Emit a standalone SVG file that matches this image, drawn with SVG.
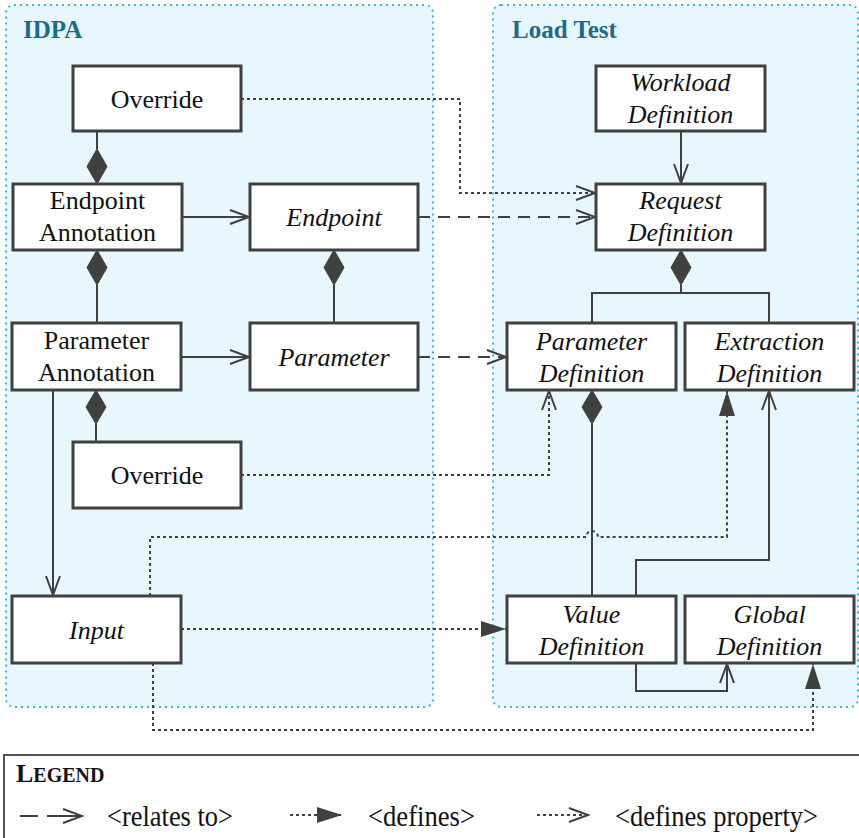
<svg xmlns="http://www.w3.org/2000/svg" width="859" height="838" viewBox="0 0 859 838">
  <defs>
    <style>
      .area { fill: #e8f7fd; stroke: #3bb7e6; stroke-width: 2; stroke-dasharray: 2 4; }
      .area-title { font-family: "Liberation Serif", "Times New Roman", serif; font-weight: bold; font-size: 25px; fill: #186d8e; }
      .box { fill: #ffffff; stroke: #404040; stroke-width: 3; }
      .lbl { font-family: "Liberation Serif", "Times New Roman", serif; font-size: 26px; fill: #111111; text-anchor: middle; }
      .it { font-style: italic; }
      .solid { fill: none; stroke: #404040; stroke-width: 2; }
      .dashed { fill: none; stroke: #404040; stroke-width: 2; stroke-dasharray: 12 8; }
      .dotted { fill: none; stroke: #404040; stroke-width: 2; stroke-dasharray: 3 3; }
      .diamond { fill: #404040; stroke: #404040; stroke-width: 1; }
      .legend-box { fill: #ffffff; stroke: #555555; stroke-width: 2; }
      .legend-text { font-family: "Liberation Serif", "Times New Roman", serif; font-size: 30px; fill: #111111; }
      .legend-title { font-family: "Liberation Serif", "Times New Roman", serif; font-weight: bold; fill: #111111; }
    </style>
    <marker id="open" markerUnits="userSpaceOnUse" markerWidth="24" markerHeight="18" refX="21" refY="9" orient="auto" overflow="visible">
      <path d="M2,2 L21,9 L2,16" fill="none" stroke="#404040" stroke-width="2"/>
    </marker>
    <marker id="filled" markerUnits="userSpaceOnUse" markerWidth="26" markerHeight="18" refX="25" refY="8" orient="auto" overflow="visible">
      <path d="M0,0 L25,8 L0,16 Z" fill="#404040"/>
    </marker>
  </defs>

  <!-- package areas -->
  <g id="area-idpa">
    <rect class="area" x="6" y="5" width="427" height="702" rx="8"/>
    <text class="area-title" x="23" y="38">IDPA</text>
  </g>
  <g id="area-loadtest">
    <rect class="area" x="493" y="5" width="365" height="702" rx="8"/>
    <text class="area-title" x="512" y="38">Load Test</text>
  </g>

  <!-- connectors -->
  <g id="connectors">
    <!-- compositions -->
    <path class="solid" d="M97,131 V149"/>
    <polygon class="diamond" points="97,149 107,166.5 97,184 87,166.5"/>
    <polygon class="diamond" points="97,250 107,267.5 97,285 87,267.5"/>
    <path class="solid" d="M97,285 V323"/>
    <polygon class="diamond" points="334,250 344,267.5 334,285 324,267.5"/>
    <path class="solid" d="M334,285 V323"/>
    <polygon class="diamond" points="96,390 106,407 96,424 86,407"/>
    <path class="solid" d="M96,424 V442"/>
    <polygon class="diamond" points="681,250 691,267.5 681,285 671,267.5"/>
    <path class="solid" d="M681,285 V293 M592,323 V293 H769 V323"/>
    <polygon class="diamond" points="592,390 602,407 592,424 582,407"/>
    <path class="solid" d="M592,424 V596"/>

    <!-- associations -->
    <path class="solid" d="M182,217 H249" marker-end="url(#open)"/>
    <path class="solid" d="M181,357 H249" marker-end="url(#open)"/>
    <path class="solid" d="M53,390 V595" marker-end="url(#open)"/>
    <path class="solid" d="M681,131 V183" marker-end="url(#open)"/>
    <path class="solid" d="M636,596 V560 H769 V391" marker-end="url(#open)"/>
    <path class="solid" d="M636,663 V691 H727 V664" marker-end="url(#open)"/>

    <!-- relates to -->
    <path class="dashed" d="M418,217 H595" marker-end="url(#open)"/>
    <path class="dashed" d="M418,357 H506" marker-end="url(#open)"/>

    <!-- defines property -->
    <path class="dotted" d="M241,99 H460 V193 H595" marker-end="url(#open)"/>
    <path class="dotted" d="M241,475 H549 V391" marker-end="url(#open)"/>

    <!-- defines -->
    <path class="dotted" d="M150,596 V537 H586 A6,6 0 0 1 598,537 H727 V391" marker-end="url(#filled)"/>
    <path class="dotted" d="M181,629 H506" marker-end="url(#filled)"/>
    <path class="dotted" d="M153,663 V730 H813 V664" marker-end="url(#filled)"/>
  </g>

  <!-- IDPA nodes -->
  <g id="node-override-endpoint">
    <rect class="box" x="73" y="66" width="168" height="65"/>
    <text class="lbl" x="157" y="107.5">Override</text>
  </g>
  <g id="node-endpoint-annotation">
    <rect class="box" x="13" y="184" width="169" height="66"/>
    <text class="lbl" x="97.5" y="209">Endpoint</text>
    <text class="lbl" x="97.5" y="241">Annotation</text>
  </g>
  <g id="node-endpoint">
    <rect class="box" x="250" y="184" width="168" height="66"/>
    <text class="lbl it" x="334" y="226">Endpoint</text>
  </g>
  <g id="node-parameter-annotation">
    <rect class="box" x="12" y="323" width="169" height="67"/>
    <text class="lbl" x="96.5" y="349">Parameter</text>
    <text class="lbl" x="96.5" y="381">Annotation</text>
  </g>
  <g id="node-parameter">
    <rect class="box" x="250" y="323" width="168" height="67"/>
    <text class="lbl it" x="334" y="365.5">Parameter</text>
  </g>
  <g id="node-override-parameter">
    <rect class="box" x="73" y="442" width="168" height="66"/>
    <text class="lbl" x="157" y="484">Override</text>
  </g>
  <g id="node-input">
    <rect class="box" x="12" y="596" width="169" height="67"/>
    <text class="lbl it" x="96.5" y="638.5">Input</text>
  </g>

  <!-- Load Test nodes -->
  <g id="node-workload-definition">
    <rect class="box" x="596" y="66" width="169" height="65"/>
    <text class="lbl it" x="680.5" y="90.5">Workload</text>
    <text class="lbl it" x="680.5" y="122.5">Definition</text>
  </g>
  <g id="node-request-definition">
    <rect class="box" x="596" y="184" width="169" height="66"/>
    <text class="lbl it" x="680.5" y="209">Request</text>
    <text class="lbl it" x="680.5" y="241">Definition</text>
  </g>
  <g id="node-parameter-definition">
    <rect class="box" x="507" y="323" width="169" height="67"/>
    <text class="lbl it" x="591.5" y="349.5">Parameter</text>
    <text class="lbl it" x="591.5" y="381.5">Definition</text>
  </g>
  <g id="node-extraction-definition">
    <rect class="box" x="685" y="323" width="169" height="67"/>
    <text class="lbl it" x="769.5" y="349.5">Extraction</text>
    <text class="lbl it" x="769.5" y="381.5">Definition</text>
  </g>
  <g id="node-value-definition">
    <rect class="box" x="507" y="596" width="169" height="67"/>
    <text class="lbl it" x="591.5" y="622.5">Value</text>
    <text class="lbl it" x="591.5" y="654.5">Definition</text>
  </g>
  <g id="node-global-definition">
    <rect class="box" x="685" y="596" width="169" height="67"/>
    <text class="lbl it" x="769.5" y="622.5">Global</text>
    <text class="lbl it" x="769.5" y="654.5">Definition</text>
  </g>

  <!-- legend -->
  <g id="legend">
    <rect class="legend-box" x="4" y="755" width="870" height="100"/>
    <text class="legend-title" x="16" y="782"><tspan font-size="26px">L</tspan><tspan font-size="20px">EGEND</tspan></text>
    <path class="solid" d="M20,816 H38"/>
    <path class="solid" d="M47,816 H82" marker-end="url(#open)"/>
    <text class="legend-text" x="107" y="826" textLength="126" lengthAdjust="spacingAndGlyphs">&lt;relates to&gt;</text>
    <path class="dotted" d="M290,815 H342" marker-end="url(#filled)"/>
    <text class="legend-text" x="368" y="826" textLength="107" lengthAdjust="spacingAndGlyphs">&lt;defines&gt;</text>
    <path class="dotted" d="M537,815 H588" marker-end="url(#open)"/>
    <text class="legend-text" x="615" y="826" textLength="203" lengthAdjust="spacingAndGlyphs">&lt;defines property&gt;</text>
  </g>
</svg>
